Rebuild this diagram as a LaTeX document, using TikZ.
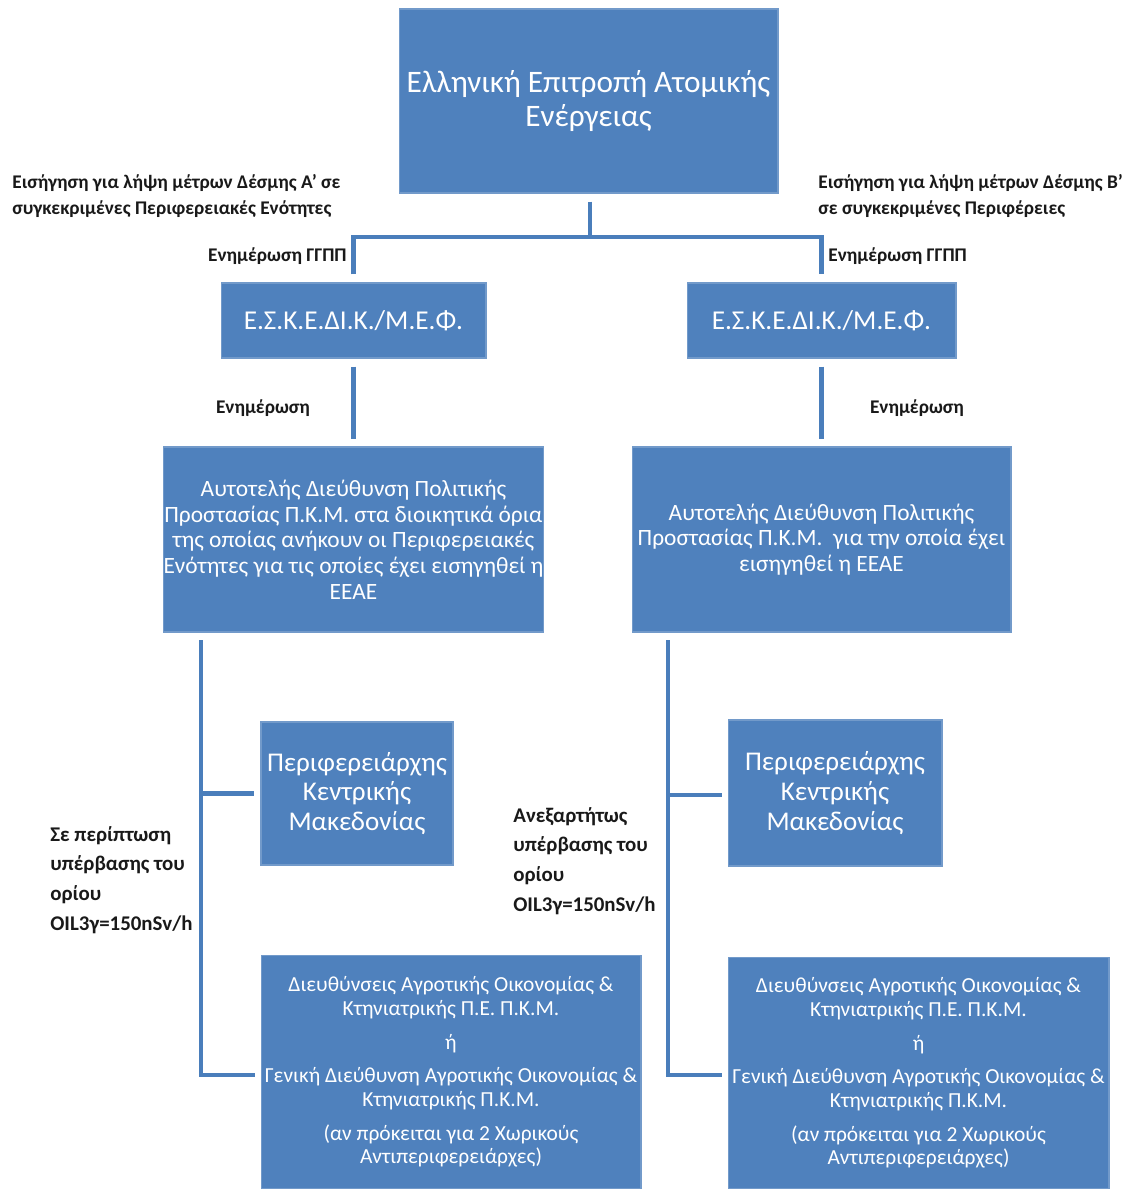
\documentclass[tikz,border=0pt]{standalone}
\usepackage{fontspec}
\setmainfont{Carlito}
\definecolor{boxblue}{HTML}{4F81BD}
\definecolor{lineblue}{HTML}{4A7EBB}
\begin{document}
\begin{tikzpicture}[x=0.02cm,y=-0.02cm,
    box/.style={fill=boxblue,draw=boxblue!80!white,line width=0.6pt,text=white,align=center,inner sep=0pt},
    link/.style={draw=lineblue,line width=2.3pt,line join=miter},
    note/.style={font=\fontsize{11}{14.7}\selectfont\bfseries,text=black!90,align=left,inner sep=0pt}]
  \useasboundingbox (0,0) rectangle (1132,1189);
  % boxes
  \node[box,minimum width=7.58cm,minimum height=3.68cm,font=\fontsize{17.8}{19.5}\selectfont] (eeae) at (588.5,101)
    {Ελληνική Επιτροπή Ατομικής\\Ενέργειας};
  \node[box,minimum width=5.3cm,minimum height=1.5cm,font=\fontsize{15.5}{17}\selectfont] (eskL) at (353.5,320.5)
    {Ε.Σ.Κ.Ε.ΔΙ.Κ./Μ.Ε.Φ.};
  \node[box,minimum width=5.38cm,minimum height=1.5cm,font=\fontsize{15.5}{17}\selectfont] (eskR) at (821.5,320.5)
    {Ε.Σ.Κ.Ε.ΔΙ.Κ./Μ.Ε.Φ.};
  \node[box,minimum width=7.58cm,minimum height=3.7cm,font=\fontsize{13.3}{14.6}\selectfont] (autL) at (353.5,539.5)
    {Αυτοτελής Διεύθυνση Πολιτικής\\Προστασίας Π.Κ.Μ. στα διοικητικά όρια\\της οποίας ανήκουν οι Περιφερειακές\\Ενότητες για τις οποίες έχει εισηγηθεί η\\ΕΕΑΕ};
  \node[box,minimum width=7.58cm,minimum height=3.7cm,font=\fontsize{13.3}{14.6}\selectfont] (autR) at (821.5,539.5)
    {Αυτοτελής Διεύθυνση Πολιτικής\\Προστασίας Π.Κ.Μ.\ \ για την οποία έχει\\εισηγηθεί η ΕΕΑΕ};
  \node[box,minimum width=3.84cm,minimum height=2.86cm,font=\fontsize{15.4}{17}\selectfont] (perL) at (357,793.5)
    {Περιφερειάρχης\\Κεντρικής\\Μακεδονίας};
  \node[box,minimum width=4.28cm,minimum height=2.92cm,font=\fontsize{15.4}{17}\selectfont] (perR) at (835,793)
    {Περιφερειάρχης\\Κεντρικής\\Μακεδονίας};
  \node[box,minimum width=7.6cm,minimum height=4.68cm,font=\fontsize{12.2}{13.6}\selectfont] (agrL) at (451,1072)
    {Διευθύνσεις Αγροτικής Οικονομίας \&\\Κτηνιατρικής Π.Ε. Π.Κ.Μ.\\[5.5pt]ή\\[5.5pt]Γενική Διεύθυνση Αγροτικής Οικονομίας \&\\Κτηνιατρικής Π.Κ.Μ.\\[5.5pt](αν πρόκειται για 2 Χωρικούς\\Αντιπεριφερειάρχες)};
  \node[box,minimum width=7.62cm,minimum height=4.64cm,font=\fontsize{12.2}{13.6}\selectfont] (agrR) at (918.5,1073)
    {Διευθύνσεις Αγροτικής Οικονομίας \&\\Κτηνιατρικής Π.Ε. Π.Κ.Μ.\\[5.5pt]ή\\[5.5pt]Γενική Διεύθυνση Αγροτικής Οικονομίας \&\\Κτηνιατρικής Π.Κ.Μ.\\[5.5pt](αν πρόκειται για 2 Χωρικούς\\Αντιπεριφερειάρχες)};
  % labels
  \node[note,anchor=west] (recA) at (12,196)
    {Εισήγηση για λήψη μέτρων Δέσμης Α’ σε\\συγκεκριμένες Περιφερειακές Ενότητες};
  \node[note,anchor=west] (recB) at (818,196)
    {Εισήγηση για λήψη μέτρων Δέσμης Β’\\σε συγκεκριμένες Περιφέρειες};
  \node[note,anchor=east] (infoGL) at (347,256) {Ενημέρωση ΓΓΠΠ};
  \node[note,anchor=west] (infoGR) at (828,256) {Ενημέρωση ΓΓΠΠ};
  \node[note] (infoL) at (263,408) {Ενημέρωση};
  \node[note] (infoR) at (917,408) {Ενημέρωση};
  \node[note,anchor=west,font=\fontsize{11.9}{17}\selectfont\bfseries] (caseL) at (50,880)
    {Σε περίπτωση\\υπέρβασης του\\ορίου\\OIL3γ=150nSv/h};
  \node[note,anchor=west,font=\fontsize{11.9}{17}\selectfont\bfseries] (caseR) at (513,861)
    {Ανεξαρτήτως\\υπέρβασης του\\ορίου\\OIL3γ=150nSv/h};
  % connectors
  \coordinate (bar) at (590,237);
  \draw[link,shorten <=0.16cm] (eeae.south -| bar) -- (bar);
  \draw[link,shorten <=0.16cm,shorten >=0.16cm] (eskL.north) -- (eskL.north |- bar)
    -- (eskR.north |- bar) -- (eskR.north);
  \draw[link,shorten <=0.16cm,shorten >=0.14cm] (eskL.south) -- (autL.north);
  \draw[link,shorten <=0.16cm,shorten >=0.14cm] (eskR.south) -- (autR.north);
  \coordinate (spineL) at (201,640);
  \coordinate (spineR) at (668,640);
  \draw[link,shorten >=0.12cm] (spineL) |- (perL.west);
  \draw[link,shorten >=0.12cm] (spineL) |- ([yshift=-0.06cm]agrL.west);
  \draw[link,shorten >=0.12cm] (spineR) |- ([yshift=-0.04cm]perR.west);
  \draw[link,shorten >=0.12cm] (spineR) |- ([yshift=-0.04cm]agrR.west);
\end{tikzpicture}
\end{document}
